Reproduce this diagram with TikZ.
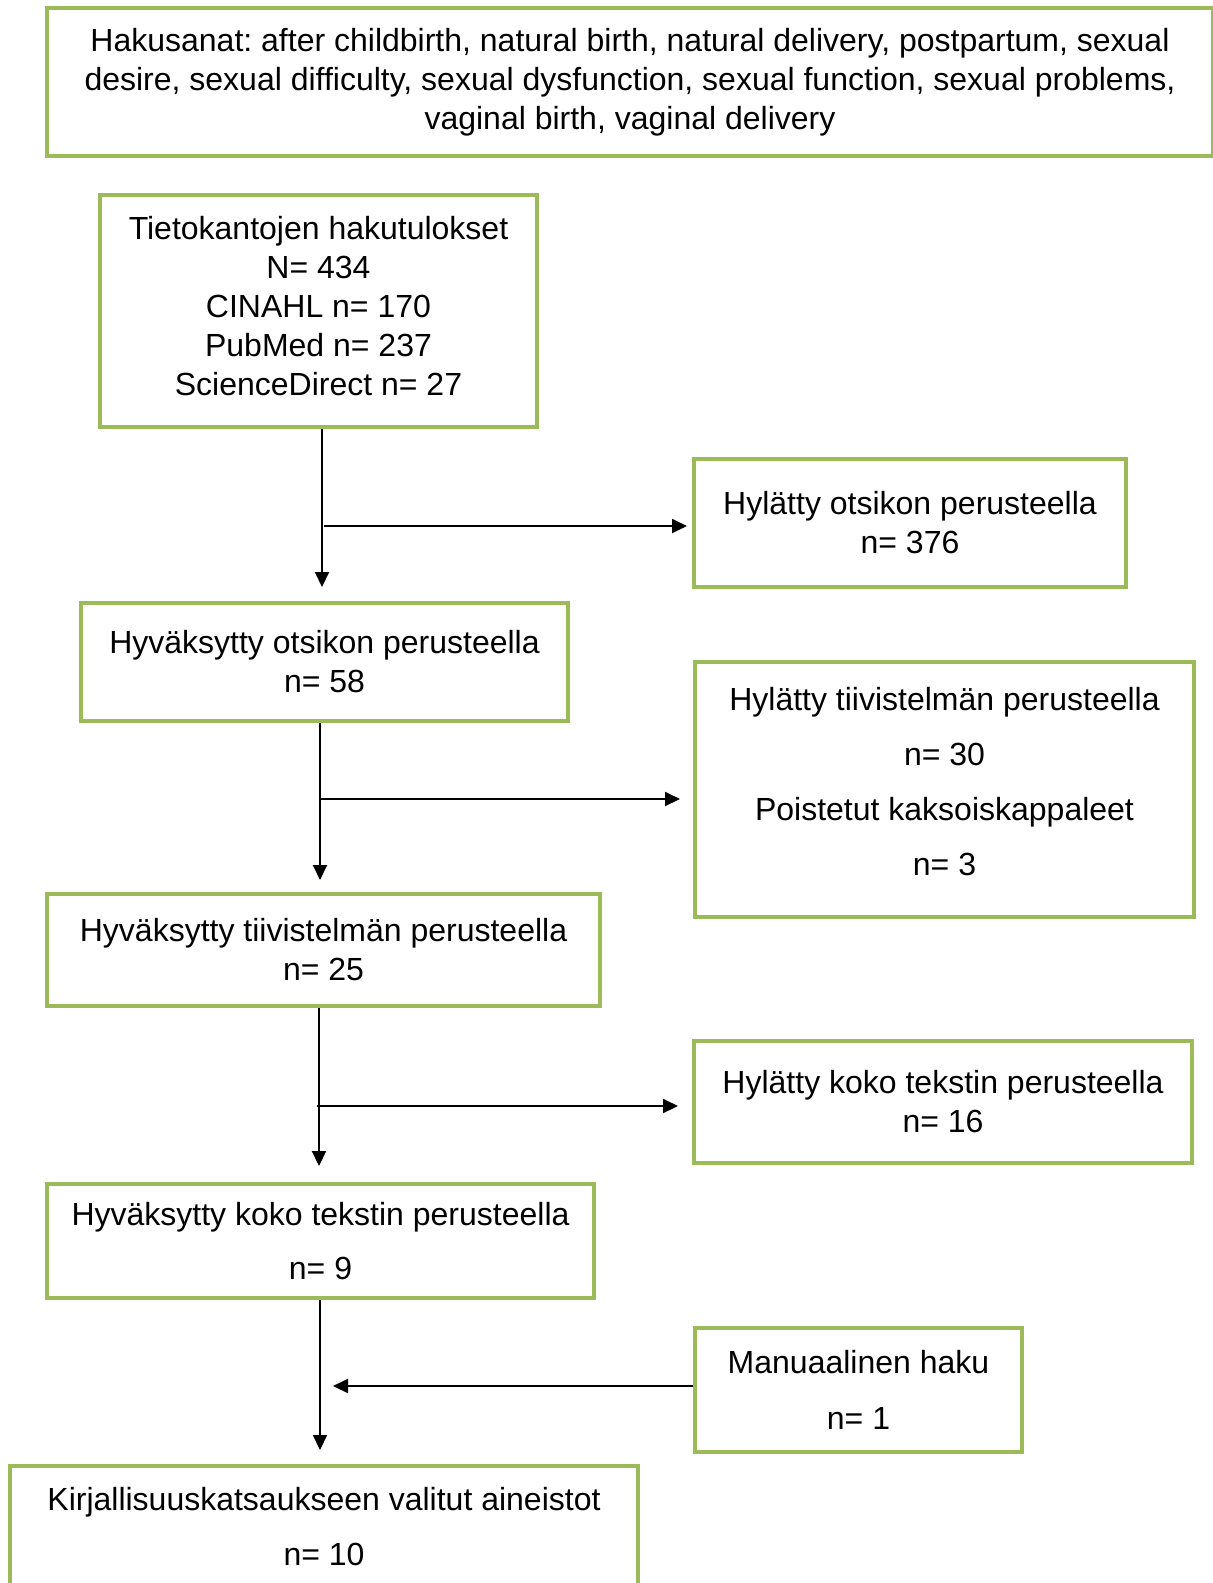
\documentclass[tikz,border=0pt]{standalone}
\usepackage{fontspec}
\setmainfont{Liberation Sans}
\usetikzlibrary{arrows.meta}
\definecolor{boxgreen}{HTML}{9BBB59}
\frenchspacing
\begin{document}
\begin{tikzpicture}[x=1pt,y=-1pt,
  box/.style={draw=boxgreen, line width=4pt, align=center, inner sep=0pt},
  fs/.style={font=\fontsize{32}{#1}\selectfont},
  conn/.style={line width=2pt, -{Triangle[length=15pt,width=14pt]}}]
\useasboundingbox (0,0) rectangle (1213,1583);
\clip (0,0) rectangle (1213,1583);
\fill[white] (0,0) rectangle (1213,1583);

\node[box, fs=39, minimum width=1166pt, minimum height=148pt] (b1) at (630,82)
  {Hakusanat: after childbirth, natural birth, natural delivery, postpartum, sexual\\
   desire, sexual difficulty, sexual dysfunction, sexual function, sexual problems,\\
   vaginal birth, vaginal delivery};

\node[box, minimum width=437pt, minimum height=232pt,
  label={[align=center, fs=39, inner sep=0pt, yshift=5pt]center:Tietokantojen hakutulokset\\N= 434\\CINAHL n= 170\\PubMed n= 237\\ScienceDirect n= 27}]
  (b2) at (318.5,311) {};

\node[box, fs=39, minimum width=432pt, minimum height=128pt] (b3) at (910,523)
  {Hylätty otsikon perusteella\\n= 376};

\node[box, fs=39, minimum width=487pt, minimum height=118pt] (b4) at (324.5,662)
  {Hyväksytty otsikon perusteella\\n= 58};

\node[box, minimum width=499pt, minimum height=255pt,
  label={[align=center, fs=55, inner sep=0pt, yshift=8pt]center:Hylätty tiivistelmän perusteella\\n= 30\\Poistetut kaksoiskappaleet\\n= 3}]
  (b5) at (944.5,789.5) {};

\node[box, fs=39, minimum width=553pt, minimum height=112pt] (b6) at (323.5,950)
  {Hyväksytty tiivistelmän perusteella\\n= 25};

\node[box, fs=39, minimum width=498pt, minimum height=122pt] (b7) at (943,1102)
  {Hylätty koko tekstin perusteella\\n= 16};

\node[box, fs=54, minimum width=547pt, minimum height=114pt] (b8) at (320.5,1241)
  {Hyväksytty koko tekstin perusteella\\n= 9};

\node[box, fs=56, minimum width=327pt, minimum height=124pt] (b9) at (858.5,1390)
  {Manuaalinen haku\\n= 1};

\node[box, fs=55, minimum width=628pt, minimum height=121pt] (b10) at (324,1526.5)
  {Kirjallisuuskatsaukseen valitut aineistot\\n= 10};

% connectors
\coordinate (t1) at (322,587);
\coordinate (j1) at (324,526);
\draw[conn] (b2.south -| t1) -- (t1);
\draw[conn, shorten >=5pt] (j1) -- (j1 -| b3.west);

\coordinate (t2) at (320,880);
\coordinate (j2) at (321,799);
\draw[conn] (b4.south -| t2) -- (t2);
\draw[conn, shorten >=13pt] (j2) -- (j2 -| b5.west);

\coordinate (t3) at (319,1166);
\coordinate (j3) at (317,1106);
\draw[conn] (b6.south -| t3) -- (t3);
\draw[conn, shorten >=14pt] (j3) -- (j3 -| b7.west);

\coordinate (t4) at (320,1450);
\coordinate (m4) at (333,1386);
\draw[conn] (b8.south -| t4) -- (t4);
\draw[conn] (m4 -| b9.west) -- (m4);
\end{tikzpicture}
\end{document}
